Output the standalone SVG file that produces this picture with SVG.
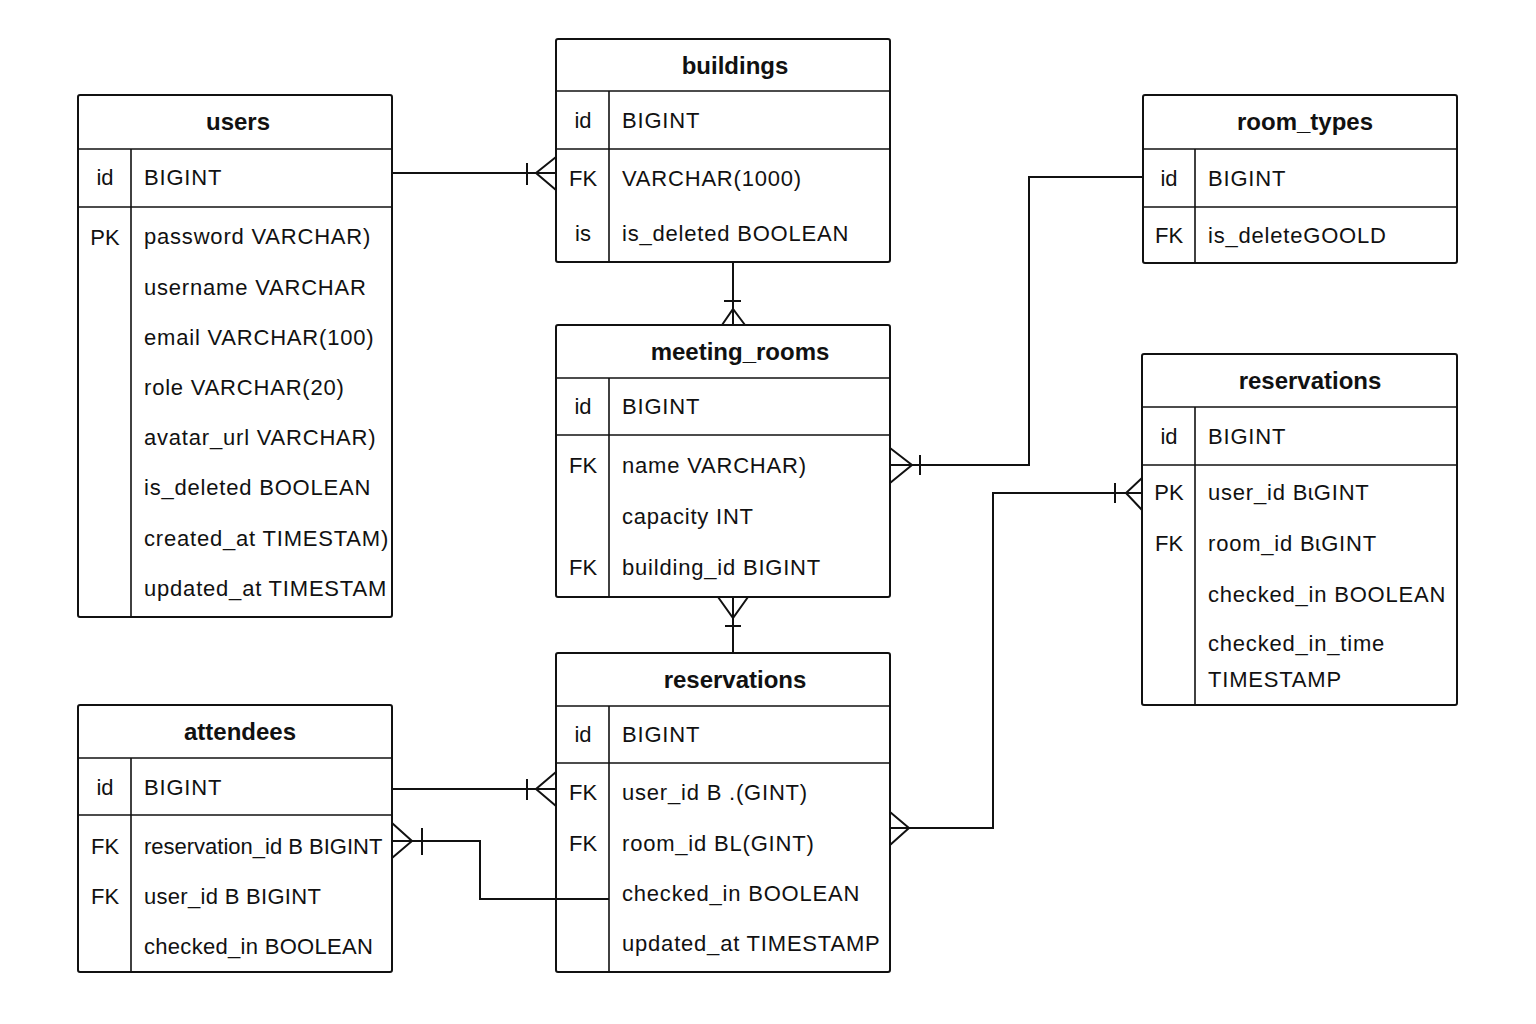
<svg xmlns="http://www.w3.org/2000/svg" width="1536" height="1024" viewBox="0 0 1536 1024">
  <style>
    .box { fill: #ffffff; stroke: #111111; stroke-width: 2; }
    .div { stroke: #111111; stroke-width: 1.6; fill: none; }
    .title { font-family: "Liberation Sans", Arial, sans-serif; font-size: 24px; font-weight: bold; fill: #111111; text-anchor: middle; }
    .col { font-family: "Liberation Sans", Arial, sans-serif; font-size: 22px; letter-spacing: 0.8px; fill: #111111; }
    .col.tight { letter-spacing: 0.3px; }
    .key { font-family: "Liberation Sans", Arial, sans-serif; font-size: 22px; fill: #111111; text-anchor: middle; }
    .edge { stroke: #111111; stroke-width: 2; fill: none; }
  </style>
  <rect width="1536" height="1024" fill="#ffffff"/>

  <!-- users -->
  <g id="users">
    <rect class="box" x="78" y="95" width="314" height="522" rx="2"/>
    <line class="div" x1="78" y1="149" x2="392" y2="149"/>
    <line class="div" x1="78" y1="207" x2="392" y2="207"/>
    <line class="div" x1="131" y1="149" x2="131" y2="617"/>
    <text class="title" x="238" y="130">users</text>
    <text class="key" x="105" y="185">id</text>
    <text class="col" x="144" y="185">BIGINT</text>
    <text class="key" x="105" y="245">PK</text>
    <text class="col" x="144" y="244">password VARCHAR)</text>
    <text class="col" x="144" y="295">username VARCHAR</text>
    <text class="col" x="144" y="345">email VARCHAR(100)</text>
    <text class="col" x="144" y="395">role VARCHAR(20)</text>
    <text class="col" x="144" y="445">avatar_url VARCHAR)</text>
    <text class="col" x="144" y="495">is_deleted BOOLEAN</text>
    <text class="col" x="144" y="546">created_at TIMESTAM)</text>
    <text class="col" x="144" y="596">updated_at TIMESTAM</text>
  </g>

  <!-- buildings -->
  <g id="buildings">
    <rect class="box" x="556" y="39" width="334" height="223" rx="2"/>
    <line class="div" x1="556" y1="91" x2="890" y2="91"/>
    <line class="div" x1="556" y1="149" x2="890" y2="149"/>
    <line class="div" x1="609" y1="91" x2="609" y2="262"/>
    <text class="title" x="735" y="74">buildings</text>
    <text class="key" x="583" y="128">id</text>
    <text class="col" x="622" y="128">BIGINT</text>
    <text class="key" x="583" y="186">FK</text>
    <text class="col" x="622" y="186">VARCHAR(1000)</text>
    <text class="key" x="583" y="241">is</text>
    <text class="col" x="622" y="241">is_deleted BOOLEAN</text>
  </g>

  <!-- room_types -->
  <g id="room_types">
    <rect class="box" x="1143" y="95" width="314" height="168" rx="2"/>
    <line class="div" x1="1143" y1="149" x2="1457" y2="149"/>
    <line class="div" x1="1143" y1="207" x2="1457" y2="207"/>
    <line class="div" x1="1195" y1="149" x2="1195" y2="263"/>
    <text class="title" x="1305" y="130">room_types</text>
    <text class="key" x="1169" y="186">id</text>
    <text class="col" x="1208" y="186">BIGINT</text>
    <text class="key" x="1169" y="243">FK</text>
    <text class="col" x="1208" y="243">is_deleteGOOLD</text>
  </g>

  <!-- meeting_rooms -->
  <g id="meeting_rooms">
    <rect class="box" x="556" y="325" width="334" height="272" rx="2"/>
    <line class="div" x1="556" y1="378" x2="890" y2="378"/>
    <line class="div" x1="556" y1="435" x2="890" y2="435"/>
    <line class="div" x1="609" y1="378" x2="609" y2="597"/>
    <text class="title" x="740" y="360">meeting_rooms</text>
    <text class="key" x="583" y="414">id</text>
    <text class="col" x="622" y="414">BIGINT</text>
    <text class="key" x="583" y="473">FK</text>
    <text class="col" x="622" y="473">name VARCHAR)</text>
    <text class="col" x="622" y="524">capacity INT</text>
    <text class="key" x="583" y="575">FK</text>
    <text class="col" x="622" y="575">building_id BIGINT</text>
  </g>

  <!-- reservations (right) -->
  <g id="reservations_right">
    <rect class="box" x="1142" y="354" width="315" height="351" rx="2"/>
    <line class="div" x1="1142" y1="407" x2="1457" y2="407"/>
    <line class="div" x1="1142" y1="465" x2="1457" y2="465"/>
    <line class="div" x1="1195" y1="407" x2="1195" y2="705"/>
    <text class="title" x="1310" y="389">reservations</text>
    <text class="key" x="1169" y="444">id</text>
    <text class="col" x="1208" y="444">BIGINT</text>
    <text class="key" x="1169" y="500">PK</text>
    <text class="col" x="1208" y="500">user_id  BɩGINT</text>
    <text class="key" x="1169" y="551">FK</text>
    <text class="col" x="1208" y="551">room_id  BɩGINT</text>
    <text class="col" x="1208" y="602">checked_in BOOLEAN</text>
    <text class="col" x="1208" y="651">checked_in_time</text>
    <text class="col" x="1208" y="687">TIMESTAMP</text>
  </g>

  <!-- reservations (center) -->
  <g id="reservations_center">
    <rect class="box" x="556" y="653" width="334" height="319" rx="2"/>
    <line class="div" x1="556" y1="706" x2="890" y2="706"/>
    <line class="div" x1="556" y1="763" x2="890" y2="763"/>
    <line class="div" x1="609" y1="706" x2="609" y2="972"/>
    <text class="title" x="735" y="688">reservations</text>
    <text class="key" x="583" y="742">id</text>
    <text class="col" x="622" y="742">BIGINT</text>
    <text class="key" x="583" y="800">FK</text>
    <text class="col" x="622" y="800">user_id B .(GINT)</text>
    <text class="key" x="583" y="851">FK</text>
    <text class="col" x="622" y="851">room_id BL(GINT)</text>
    <text class="col" x="622" y="901">checked_in BOOLEAN</text>
    <text class="col" x="622" y="951">updated_at TIMESTAMP</text>
  </g>

  <!-- attendees -->
  <g id="attendees">
    <rect class="box" x="78" y="705" width="314" height="267" rx="2"/>
    <line class="div" x1="78" y1="758" x2="392" y2="758"/>
    <line class="div" x1="78" y1="815" x2="392" y2="815"/>
    <line class="div" x1="131" y1="758" x2="131" y2="972"/>
    <text class="title" x="240" y="740">attendees</text>
    <text class="key" x="105" y="795">id</text>
    <text class="col" x="144" y="795">BIGINT</text>
    <text class="key" x="105" y="854">FK</text>
    <text class="col" x="144" y="854" style="letter-spacing:0">reservation_id B BIGINT</text>
    <text class="key" x="105" y="904">FK</text>
    <text class="col tight" x="144" y="904">user_id B BIGINT</text>
    <text class="col tight" x="144" y="954">checked_in BOOLEAN</text>
  </g>

  <!-- relationship lines with crow's-foot ends -->
  <g id="connectors">
    <!-- users -> buildings -->
    <path class="edge" d="M392 173 H556"/>
    <path class="edge" d="M527 163 V185"/>
    <path class="edge" d="M556 157 L536 173 L556 190"/>

    <!-- buildings -> meeting_rooms -->
    <path class="edge" d="M733 262 V325"/>
    <path class="edge" d="M724 301 H741"/>
    <path class="edge" d="M722 325 L733 309 L745 325"/>

    <!-- meeting_rooms -> reservations (center) -->
    <path class="edge" d="M733 597 V653"/>
    <path class="edge" d="M718 597 L733 618 L748 597"/>
    <path class="edge" d="M725 626 H741"/>

    <!-- room_types -> meeting_rooms -->
    <path class="edge" d="M1143 177 H1029 V465 H890"/>
    <path class="edge" d="M890 448 L912 465 L890 483"/>
    <path class="edge" d="M920 455 V475"/>

    <!-- reservations (right) -> reservations (center) -->
    <path class="edge" d="M1142 493 H993 V828 H890"/>
    <path class="edge" d="M1115 483 V503"/>
    <path class="edge" d="M1142 478 L1126 493 L1142 510"/>
    <path class="edge" d="M890 812 L909 828 L890 845"/>

    <!-- attendees -> reservations (center) -->
    <path class="edge" d="M392 789 H556"/>
    <path class="edge" d="M527 779 V800"/>
    <path class="edge" d="M556 772 L536 789 L556 806"/>

    <!-- attendees.reservation_id -> reservations (center) -->
    <path class="edge" d="M392 841 H480 V899 H609"/>
    <path class="edge" d="M392 823 L412 841 L392 858"/>
    <path class="edge" d="M422 828 V855"/>
  </g>
</svg>
